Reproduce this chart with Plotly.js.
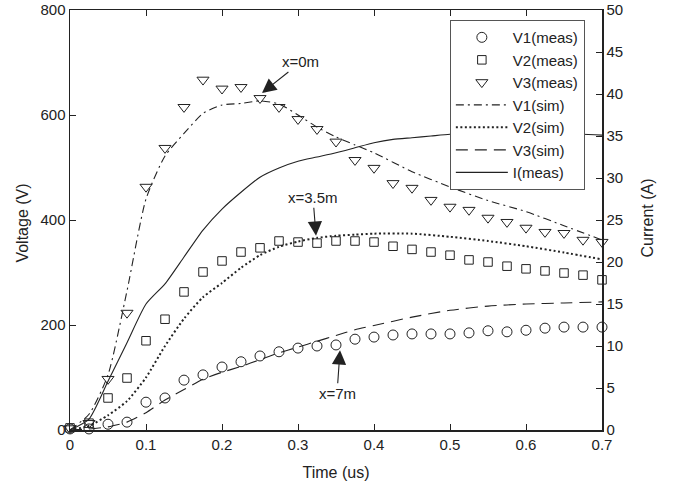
<!DOCTYPE html>
<html>
<head>
<meta charset="utf-8">
<script src="https://cdn.plot.ly/plotly-3.0.1.min.js"></script>
<style>html,body{margin:0;padding:0;background:#fff;}#chart{width:679px;height:487px;}</style>
</head>
<body>
<div id="chart"></div>
<script>
// measured voltages (every 0.025 us)
var tMeas = [0,0.025,0.05,0.075,0.1,0.125,0.15,0.175,0.2,0.225,0.25,0.275,0.3,0.325,0.35,0.375,0.4,0.425,0.45,0.475,0.5,0.525,0.55,0.575,0.6,0.625,0.65,0.675,0.7];
var v1Meas = [2,2,11,15,53,61,95,105,120,130,141,149,156,160,162,173,177,181,183,183,183,185,189,187,190,194,196,196,196];
var v2Meas = [4,13,61,99,170,211,263,301,322,339,347,360,358,356,360,360,358,350,344,339,333,324,320,312,307,303,299,295,286];
var v3Meas = [3,13,97,223,463,537,615,667,650,653,632,615,592,573,549,514,499,470,461,438,425,419,404,396,385,377,375,362,358];

// simulated voltages
var tSim = [0,0.025,0.05,0.075,0.1,0.125,0.15,0.175,0.2,0.225,0.25,0.275,0.3,0.325,0.35,0.375,0.4,0.45,0.5,0.55,0.6,0.65,0.7];
var v1Sim = [0,30,105,265,440,522,565,603,619,622,627,621,600,577,558,543,528,492,463,437,416,389,362];
var v2Sim = [0,8,28,55,100,160,212,253,280,309,333,349,359,366,370,372,374,374,368,360,350,338,325];
var v3Sim = [0,2,6,15,33,57,77,97,110,121,134,147,158,169,180,191,199,215,228,236,240,242,244];

// measured current (A)
var tCur = [0,0.025,0.05,0.075,0.1,0.125,0.15,0.175,0.2,0.225,0.25,0.275,0.3,0.325,0.35,0.375,0.4,0.425,0.45,0.475,0.5,0.55,0.6,0.65,0.7];
var iMeas = [0,1.3,5.8,10.4,15.0,17.4,20.6,23.8,26.3,28.3,30.1,31.2,32.0,32.5,33.0,33.6,34.2,34.6,34.8,35.0,35.2,35.3,35.4,35.3,35.1];

var names = ['V1(meas)','V2(meas)','V3(meas)','V1(sim)','V2(sim)','V3(sim)','I(meas)'];
var ink = '#222';
var font = 'Liberation Sans, Arial, Helvetica, sans-serif';

function meas(y, sym, size, name){
  return {x:tMeas, y:y, name:name, mode:'markers', type:'scatter', cliponaxis:false,
    marker:{symbol:sym, size:size, color:ink, line:{color:ink, width:1}}};
}
var traces = [
  meas(v1Meas,'circle-open',10,names[0]),
  meas(v2Meas,'square-open',8.5,names[1]),
  meas(v3Meas,'triangle-down-open',10.5,names[2]),
  {x:tSim, y:v1Sim, name:names[3], mode:'lines', line:{color:ink, width:1.1, dash:'8px,4px,2px,4px', shape:'spline', smoothing:0.6}},
  {x:tSim, y:v2Sim, name:names[4], mode:'lines', line:{color:ink, width:2, dash:'2px,2.5px', shape:'spline', smoothing:0.6}},
  {x:tSim, y:v3Sim, name:names[5], mode:'lines', line:{color:ink, width:1.1, dash:'12px,7px', shape:'spline', smoothing:0.6}},
  {x:tCur, y:iMeas, name:names[6], yaxis:'y2', mode:'lines', line:{color:ink, width:1.1, shape:'spline', smoothing:0.6}}
];

var axBase = {showline:true, linecolor:ink, linewidth:1.5, ticks:'inside', ticklen:6, tickcolor:ink, tickwidth:1,
  showgrid:false, zeroline:false, automargin:false, tickfont:{family:font, size:15, color:'#222'}};

var layout = {
  width:679, height:487,
  margin:{l:70, r:77, t:10, b:57, autoexpand:false},
  paper_bgcolor:'#fff', plot_bgcolor:'#fff',
  font:{family:font, color:'#222'},
  showlegend:true,
  legend:{x:0.714, y:0.976, xanchor:'left', yanchor:'top', bgcolor:'#fff', bordercolor:'#555', borderwidth:1,
    font:{family:font, size:15, color:'#222'}, itemwidth:52, tracegroupgap:0},
  xaxis:Object.assign({}, axBase, {range:[0,0.7], dtick:0.1, tick0:0, mirror:'ticks',
    title:{text:'Time (us)', font:{family:font, size:16, color:'#222'}}}),
  yaxis:Object.assign({}, axBase, {range:[0,800], dtick:200, tick0:0,
    title:{text:'Voltage (V)', font:{family:font, size:16, color:'#222'}}}),
  yaxis2:Object.assign({}, axBase, {range:[0,50], dtick:5, tick0:0, overlaying:'y', side:'right',
    title:{text:'Current (A)', font:{family:font, size:16, color:'#222'}}}),
  annotations:[
    {x:0.2526, y:642, xref:'x', yref:'y', text:'x=0m', showarrow:true, ax:39, ay:-31,
     arrowhead:2, arrowsize:2.6, arrowwidth:1.1, arrowcolor:ink, font:{family:font, size:15, color:'#222'}},
    {x:0.3237, y:370, xref:'x', yref:'y', text:'x=3.5m', showarrow:true, ax:-3, ay:-38,
     arrowhead:2, arrowsize:2.6, arrowwidth:1.1, arrowcolor:ink, font:{family:font, size:15, color:'#222'}},
    {x:0.3553, y:152, xref:'x', yref:'y', text:'x=7m', showarrow:true, ax:-3, ay:43,
     arrowhead:2, arrowsize:2.6, arrowwidth:1.1, arrowcolor:ink, font:{family:font, size:15, color:'#222'}}
  ]
};

Plotly.newPlot('chart', traces, layout, {staticPlot:true, displayModeBar:false}).then(function(gd){
  // nudge axis titles to the reference positions
  var xt = gd.querySelector('.xtitle'), yt = gd.querySelector('.ytitle'), y2t = gd.querySelector('.y2title');
  if (xt) xt.setAttribute('transform', 'translate(0,-6)');
  if (yt) yt.setAttribute('transform', (yt.getAttribute('transform')||'') + ' translate(-3,0)');
  if (y2t) y2t.setAttribute('transform', (y2t.getAttribute('transform')||'') + ' translate(2,0)');
});
</script>
</body>
</html>
